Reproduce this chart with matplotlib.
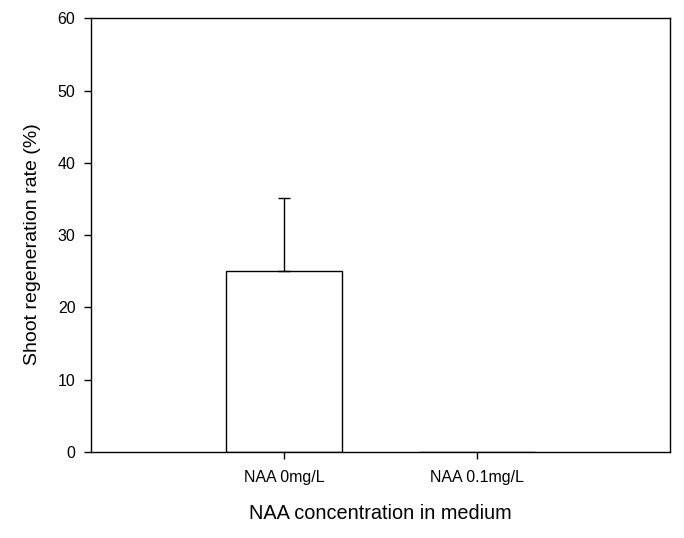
import numpy as np
import matplotlib
matplotlib.use('Agg')
from matplotlib import pyplot as plt

plt.rcParams['font.family'] = ['Liberation Sans', 'DejaVu Sans']

categories = ['NAA 0mg/L', 'NAA 0.1mg/L']
rates = [25.0, 0.0]
errors_up = [10.1, 0.0]

fig = plt.figure(figsize=(6.84, 5.38), dpi=100)
ax = fig.add_axes([0.1326, 0.1599, 0.847, 0.806])

x = np.arange(1, len(categories) + 1)
ax.bar(x, rates, width=0.6, color='white', edgecolor='black', linewidth=1.0, zorder=2)
# only the upper half of the error bar is drawn
ax.errorbar(x[:1], rates[:1], yerr=[[0], errors_up[:1]], fmt='none',
            ecolor='black', elinewidth=1.0, capsize=4.5, capthick=1.0, zorder=3)

ax.set_xlim(0, 3)
ax.set_ylim(0, 60)
ax.set_yticks([0, 10, 20, 30, 40, 50, 60])
ax.set_xticks(x)
ax.set_xticklabels(categories, fontsize=11.5)
ax.tick_params(axis='y', labelsize=11.5, direction='out', length=5, width=1, pad=6)
ax.tick_params(axis='x', direction='out', length=5, width=1, pad=8)
for s in ax.spines.values():
    s.set_linewidth(1.0)

ax.set_xlabel('NAA concentration in medium', fontsize=14.3, labelpad=14)
ax.set_ylabel('Shoot regeneration rate (%)', fontsize=14, labelpad=12)
ax.yaxis.label.set_y(0.48)

fig.savefig('out.png', dpi=100)
